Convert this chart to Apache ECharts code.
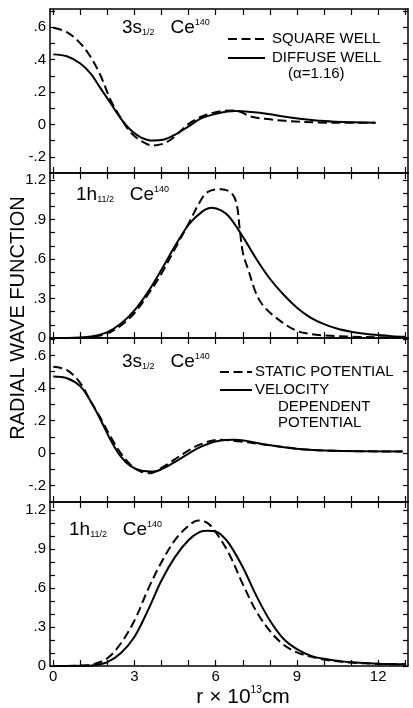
<!DOCTYPE html>
<html>
<head>
<meta charset="utf-8">
<script src="https://cdn.jsdelivr.net/npm/echarts@6/dist/echarts.min.js"></script>
<style>
html,body{margin:0;padding:0;background:#fff;}
#chart{width:413px;height:708px;}
</style>
</head>
<body>
<div id="chart"></div>
<script>
// ---------- data ----------
// Panel 1: 3s1/2 Ce140, square well (dashed) vs diffuse well (solid)
const p1SquareX = [0, 0.5, 1.0, 1.375, 1.75, 2.12, 2.49, 2.86, 3.23, 3.67, 4.1, 4.47, 4.97, 5.46, 6.08, 6.7, 7.32, 8.0, 8.56, 9.8, 11.0, 11.9];
const p1SquareY = [0.596, 0.57, 0.50, 0.417, 0.30, 0.15, 0.04, -0.05, -0.10, -0.13, -0.117, -0.077, 0.0, 0.047, 0.078, 0.086, 0.047, 0.031, 0.022, 0.012, 0.01, 0.01];
const p1DiffuseX = [0, 0.5, 1.0, 1.375, 1.75, 2.12, 2.49, 2.86, 3.23, 3.67, 4.1, 4.47, 4.97, 5.46, 6.08, 6.7, 7.32, 7.94, 8.56, 9.18, 9.8, 10.4, 11.9];
const p1DiffuseY = [0.432, 0.42, 0.376, 0.315, 0.222, 0.13, 0.037, -0.035, -0.08, -0.10, -0.093, -0.066, -0.015, 0.037, 0.068, 0.082, 0.076, 0.064, 0.047, 0.033, 0.023, 0.016, 0.01];

// Panel 2: 1h11/2 Ce140, square well (dashed) vs diffuse well (solid)
const p2SquareX = [0, 0.5, 1.0, 1.5, 2.0, 2.5, 3.0, 3.5, 4.0, 4.5, 5.0, 5.46, 5.71, 6.21, 6.58, 6.77, 6.89, 7.01, 7.2, 7.45, 7.7, 8.19, 8.93, 9.5, 10.0, 11.0, 12.0, 13.0];
const p2SquareY = [0, 0, 0.002, 0.01, 0.035, 0.095, 0.19, 0.33, 0.49, 0.68, 0.87, 1.05, 1.11, 1.13, 1.10, 1.02, 0.82, 0.64, 0.52, 0.36, 0.26, 0.16, 0.06, 0.03, 0.02, 0.01, 0.005, 0.003];
const p2DiffuseX = [0, 0.5, 1.0, 1.5, 2.0, 2.5, 3.0, 3.5, 4.0, 4.5, 5.0, 5.5, 5.85, 6.2, 6.5, 7.0, 7.5, 8.0, 8.5, 9.0, 9.5, 10.0, 10.5, 11.0, 11.5, 12.0, 12.5, 13.0];
const p2DiffuseY = [0, 0, 0.003, 0.015, 0.045, 0.11, 0.21, 0.35, 0.52, 0.70, 0.86, 0.96, 0.99, 0.97, 0.92, 0.77, 0.60, 0.45, 0.33, 0.23, 0.155, 0.105, 0.07, 0.048, 0.033, 0.022, 0.014, 0.01];

// Panel 3: 3s1/2 Ce140, static potential (dashed) vs velocity dependent potential (solid)
const p3StaticX = [0, 0.51, 1.0, 1.375, 1.75, 2.12, 2.49, 2.86, 3.23, 3.6, 3.98, 4.47, 4.97, 5.46, 6.08, 6.7, 7.94, 9.18, 10.4, 12.9];
const p3StaticY = [0.53, 0.51, 0.43, 0.32, 0.215, 0.10, 0.0, -0.072, -0.113, -0.123, -0.092, -0.04, 0.014, 0.055, 0.082, 0.075, 0.05, 0.024, 0.014, 0.01];
const p3VelocityX = [0, 0.51, 1.0, 1.375, 1.75, 2.12, 2.49, 2.86, 3.23, 3.73, 3.98, 4.47, 4.97, 5.46, 6.08, 6.7, 7.94, 9.18, 10.4, 12.9];
const p3VelocityY = [0.47, 0.46, 0.41, 0.32, 0.204, 0.08, -0.02, -0.08, -0.106, -0.113, -0.10, -0.057, -0.006, 0.04, 0.075, 0.082, 0.05, 0.024, 0.014, 0.01];

// Panel 4: 1h11/2 Ce140, static potential (dashed) vs velocity dependent potential (solid)
const p4StaticX = [0, 0.5, 1.0, 1.5, 2.0, 2.5, 3.0, 3.5, 4.0, 4.5, 5.0, 5.35, 5.7, 6.0, 6.5, 7.0, 7.5, 8.0, 8.5, 9.0, 9.5, 10.0, 10.5, 11.0, 12.0, 13.0];
const p4StaticY = [0, 0, 0.003, 0.015, 0.06, 0.175, 0.35, 0.59, 0.80, 0.97, 1.08, 1.12, 1.10, 1.03, 0.86, 0.63, 0.42, 0.27, 0.165, 0.105, 0.072, 0.05, 0.036, 0.026, 0.017, 0.013];
const p4VelocityX = [0, 0.5, 1.0, 1.5, 2.0, 2.5, 3.0, 3.5, 4.0, 4.5, 5.0, 5.4, 5.7, 6.0, 6.2, 6.5, 7.0, 7.5, 8.0, 8.5, 9.0, 9.5, 10.0, 10.5, 11.0, 12.0, 13.0];
const p4VelocityY = [0, 0, 0.001, 0.006, 0.03, 0.10, 0.225, 0.43, 0.66, 0.84, 0.97, 1.03, 1.04, 1.035, 1.01, 0.94, 0.76, 0.54, 0.35, 0.21, 0.13, 0.08, 0.055, 0.04, 0.028, 0.017, 0.013];

// axis ticks & labels
const xTickValues = [0,1,2,3,4,5,6,7,8,9,10,11,12,13];
const xLabelValues = [0,3,6,9,12];
const sTickValues = [-0.2,-0.1,0,0.1,0.2,0.3,0.4,0.5,0.6,0.7];
const sLabelValues = [-0.2,0,0.2,0.4,0.6];
const sLabelTexts = ['-.2','0','.2','.4','.6'];
const hTickValues = [0,0.1,0.2,0.3,0.4,0.5,0.6,0.7,0.8,0.9,1.0,1.1,1.2];
const hLabelValues = [0,0.3,0.6,0.9,1.2];
const hLabelTexts = ['0','.3','.6','.9','1.2'];

// ---------- layout ----------
const gridTops = [9, 173, 338, 502];
const gridHeights = [164, 165, 164, 164];
const yRanges = [[-0.3, 0.712], [0, 1.253], [-0.3, 0.707], [0, 1.262]];
const panelKinds = ['s','h','s','h'];

const zip = (xs, ys) => xs.map((x, i) => [x, ys[i]]);
const FONT = '"Liberation Sans", "DejaVu Sans", sans-serif';

const grids = gridTops.map((t, i) => ({left: 50, right: 5, top: t, height: gridHeights[i]}));

const axisLineStyle = {color: '#000', width: 1.5};
const xAxes = [];
const yAxes = [];
for (let i = 0; i < 4; i++) {
  ['bottom','top'].forEach(pos => {
    xAxes.push({
      gridIndex: i, type: 'value', position: pos, min: -0.12, max: 13.1,
      axisLine: {show: true, onZero: false, lineStyle: axisLineStyle},
      axisTick: {show: true, inside: true, length: 6, customValues: xTickValues, lineStyle: {color: '#000', width: 1.2}},
      axisLabel: {show: (i === 3 && pos === 'bottom'), customValues: xLabelValues, color: '#000', fontSize: 15, fontFamily: FONT, margin: 3},
      splitLine: {show: false}
    });
  });
  const kind = panelKinds[i];
  const tv = kind === 's' ? sTickValues : hTickValues;
  const lv = kind === 's' ? sLabelValues : hLabelValues;
  const lt = kind === 's' ? sLabelTexts : hLabelTexts;
  ['left','right'].forEach(pos => {
    yAxes.push({
      gridIndex: i, type: 'value', position: pos, min: yRanges[i][0], max: yRanges[i][1],
      axisLine: {show: true, onZero: false, lineStyle: axisLineStyle},
      axisTick: {show: true, inside: true, length: 5, customValues: tv, lineStyle: {color: '#000', width: 1.2}},
      axisLabel: {
        show: pos === 'left', customValues: lv, color: '#000', fontSize: 15, fontFamily: FONT, margin: 4,
        formatter: v => { const k = lv.findIndex(a => Math.abs(a - v) < 1e-6); return k >= 0 ? lt[k] : ''; }
      },
      splitLine: {show: false}
    });
  });
}

const dashed = {color: '#000', width: 2, type: [9, 4.5]};
const solid = {color: '#000', width: 2, type: 'solid'};
function mk(name, i, xs, ys, style) {
  return {name, type: 'line', xAxisIndex: i * 2, yAxisIndex: i * 2, data: zip(xs, ys),
    smooth: 0.35, symbol: 'none', lineStyle: style, silent: true, animation: false};
}
const series = [
  mk('Square well 3s', 0, p1SquareX, p1SquareY, dashed),
  mk('Diffuse well 3s', 0, p1DiffuseX, p1DiffuseY, solid),
  mk('Square well 1h', 1, p2SquareX, p2SquareY, dashed),
  mk('Diffuse well 1h', 1, p2DiffuseX, p2DiffuseY, solid),
  mk('Static 3s', 2, p3StaticX, p3StaticY, dashed),
  mk('Velocity 3s', 2, p3VelocityX, p3VelocityY, solid),
  mk('Static 1h', 3, p4StaticX, p4StaticY, dashed),
  mk('Velocity 1h', 3, p4VelocityX, p4VelocityY, solid)
];

const titleRich = {
  m: {fontSize: 19, fontFamily: FONT, fill: '#000', color: '#000', lineHeight: 22, verticalAlign: 'middle'},
  sub: {fontSize: 9, fontFamily: FONT, color: '#000', lineHeight: 22, verticalAlign: 'bottom', padding: [0, 0, 2, 0]},
  sup: {fontSize: 9, fontFamily: FONT, color: '#000', lineHeight: 22, verticalAlign: 'top', padding: [1, 0, 0, 0]}
};
function titleText(x, y, lvl, sub) {
  return {type: 'text', x, y, silent: true,
    style: {text: '{m|' + lvl + '}{sub|' + sub + '}{m|   Ce}{sup|140}', rich: titleRich, verticalAlign: 'middle', fill: '#000'}};
}
function txt(x, y, s, size, extra) {
  return Object.assign({type: 'text', x, y, silent: true,
    style: {text: s, font: size + 'px ' + FONT, fill: '#000', verticalAlign: 'middle', align: 'left'}}, extra || {});
}
function seg(x1, x2, y, style) {
  return {type: 'line', silent: true, shape: {x1, y1: y, x2, y2: y},
    style: {stroke: '#000', lineWidth: 2, lineDash: style === 'dashed' ? [9, 4.5] : null}};
}

const graphics = [
  titleText(122, 28, '3s', '1/2'),
  titleText(76, 195, '1h', '11/2'),
  titleText(122, 362, '3s', '1/2'),
  titleText(69, 530, '1h', '11/2'),
  seg(228, 265, 39, 'dashed'), txt(272, 39, 'SQUARE WELL', 15),
  seg(228, 265, 58, 'solid'), txt(272, 58, 'DIFFUSE WELL', 15),
  txt(288, 74, '(α=1.16)', 15),
  seg(220, 252, 372, 'dashed'), txt(255, 372, 'STATIC POTENTIAL', 15),
  seg(220, 252, 390, 'solid'), txt(255, 390, 'VELOCITY', 15),
  txt(278, 407, 'DEPENDENT', 15),
  txt(278, 423, 'POTENTIAL', 15),
  {type: 'text', x: 18, y: 318, rotation: Math.PI / 2, silent: true,
    style: {text: 'RADIAL WAVE FUNCTION', font: '20px ' + FONT, fill: '#000', align: 'center', verticalAlign: 'middle'}},
  {type: 'text', x: 243, y: 697, silent: true,
    style: {text: '{m|r × 10}{sup|13}{m|cm}', align: 'center', verticalAlign: 'middle', fill: '#000',
      rich: {
        m: {fontSize: 21, fontFamily: FONT, color: '#000', lineHeight: 24, verticalAlign: 'middle'},
        sup: {fontSize: 10, fontFamily: FONT, color: '#000', lineHeight: 24, verticalAlign: 'top'}
      }}}
];

const chart = echarts.init(document.getElementById('chart'), null, {renderer: 'canvas'});
chart.setOption({
  backgroundColor: '#fff',
  animation: false,
  grid: grids,
  xAxis: xAxes,
  yAxis: yAxes,
  series,
  graphic: graphics
});
</script>
</body>
</html>
